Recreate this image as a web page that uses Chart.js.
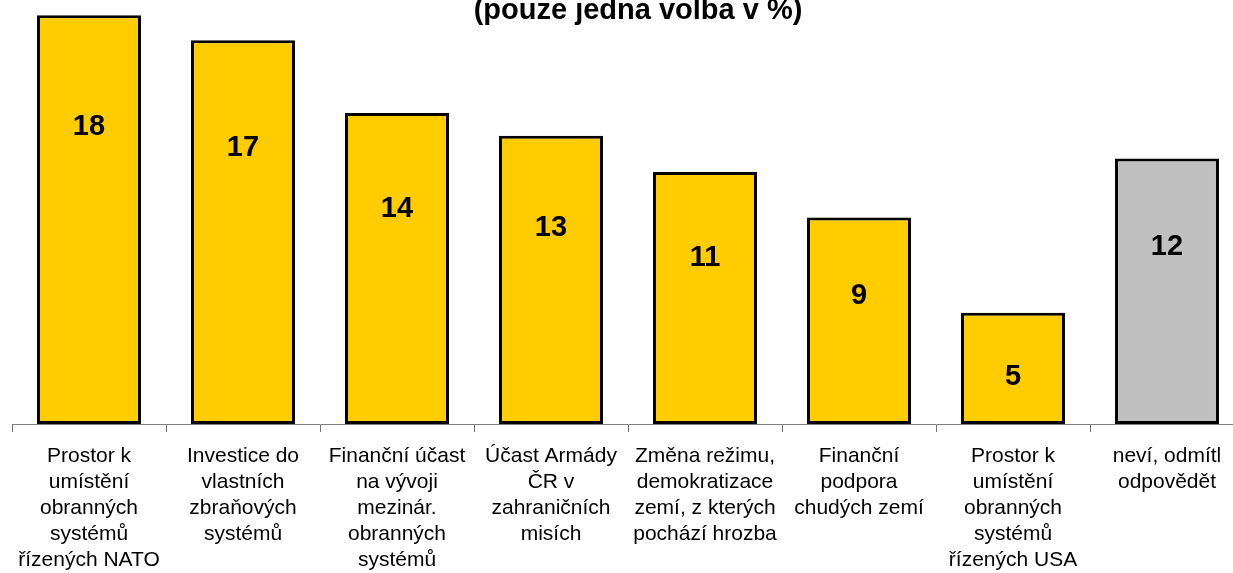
<!DOCTYPE html>
<html>
<head>
<meta charset="utf-8">
<title>pouze jedna volba</title>
<script src="https://cdn.jsdelivr.net/npm/chart.js@4/dist/chart.umd.min.js"></script>
<style>
  html, body { margin: 0; padding: 0; background: #fff; overflow: hidden; }
  #wrap { position: relative; width: 1276px; height: 573px; }
  #title {
    position: absolute; left: 0; top: -5px; width: 1276px;
    text-align: center; font: bold 29px "Liberation Sans", Arial, sans-serif;
    line-height: 29px; color: #000;
  }
</style>
</head>
<body>
<div id="wrap">
  <canvas id="myChart" width="1276" height="573"></canvas>
  <div id="title">(pouze jedna volba v %)</div>
</div>
<script>
'use strict';
// categories (wrapped the same way as in the picture)
let categories = [
  ['Prostor k', 'umístění', 'obranných', 'systémů', 'řízených NATO'],
  ['Investice do', 'vlastních', 'zbraňových', 'systémů'],
  ['Finanční účast', 'na vývoji', 'mezinár.', 'obranných', 'systémů'],
  ['Účast Armády', 'ČR v', 'zahraničních', 'misích'],
  ['Změna režimu,', 'demokratizace', 'zemí, z kterých', 'pochází hrozba'],
  ['Finanční', 'podpora', 'chudých zemí'],
  ['Prostor k', 'umístění', 'obranných', 'systémů', 'řízených USA'],
  ['neví, odmítl', 'odpovědět']
];
// percent values
let values = [18.0, 16.9, 13.7, 12.7, 11.1, 9.1, 4.9, 11.7];
let barColors = ['#FFCC00', '#FFCC00', '#FFCC00', '#FFCC00', '#FFCC00', '#FFCC00', '#FFCC00', '#C0C0C0'];

let fontFamily = '"Liberation Sans", Arial, sans-serif';

// numbers inside the bars
let valueLabels = {
  id: 'valueLabels',
  afterDatasetsDraw(chart) {
    let ctx = chart.ctx;
    let meta = chart.getDatasetMeta(0);
    ctx.save();
    ctx.font = 'bold 29px ' + fontFamily;
    ctx.fillStyle = '#000';
    ctx.textAlign = 'center';
    ctx.textBaseline = 'middle';
    meta.data.forEach(function (bar, i) {
      let h = bar.base - bar.y;
      let ly = bar.y + 0.16 * h + 46;
      ctx.fillText(String(Math.round(values[i])), bar.x, ly);
    });
    ctx.restore();
  }
};

let ctx = document.getElementById('myChart').getContext('2d');
let myChart = new Chart(ctx, {
  type: 'bar',
  data: {
    labels: categories,
    datasets: [{
      data: values,
      backgroundColor: barColors,
      borderColor: '#000',
      borderWidth: 3,
      borderSkipped: false,
      barPercentage: 0.675,
      categoryPercentage: 1
    }]
  },
  options: {
    responsive: false,
    animation: false,
    layout: { padding: { top: 4, left: 12, right: 32, bottom: 0 } },
    plugins: {
      legend: { display: false },
      tooltip: { enabled: false }
    },
    scales: {
      x: {
        grid: { offset: true, drawOnChartArea: false, tickLength: 8, color: '#707070' },
        border: { color: '#808080', width: 1 },
        ticks: {
          color: '#000',
          font: { family: fontFamily, size: 21, lineHeight: '26px' },
          padding: 11,
          maxRotation: 0,
          autoSkip: false
        },
        afterFit: function (scale) { scale.height = 149; }
      },
      y: {
        display: false,
        min: 0,
        max: 18.5
      }
    }
  },
  plugins: [valueLabels]
});
</script>
</body>
</html>
